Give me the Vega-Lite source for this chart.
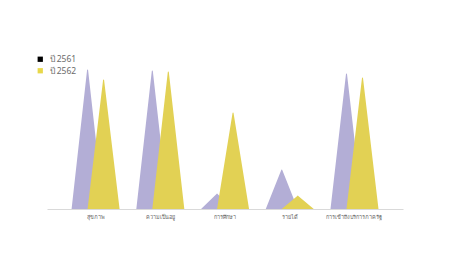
{
  "$schema": "https://vega.github.io/schema/vega-lite/v6.json",
  "width": 356,
  "height": 150,
  "autosize": {"type": "none"},
  "padding": {"left": 47, "top": 59, "right": 57, "bottom": 58},
  "background": "#ffffff",
  "config": {"view": {"stroke": null}, "font": "Noto Sans"},
  "data": {
    "values": [
      {"category": "สุขภาพ", "year": "ปี 2561", "value": 139},
      {"category": "สุขภาพ", "year": "ปี 2562", "value": 129},
      {"category": "ความเป็นอยู่", "year": "ปี 2561", "value": 138},
      {"category": "ความเป็นอยู่", "year": "ปี 2562", "value": 137},
      {"category": "การศึกษา", "year": "ปี 2561", "value": 15},
      {"category": "การศึกษา", "year": "ปี 2562", "value": 96},
      {"category": "รายได้", "year": "ปี 2561", "value": 39},
      {"category": "รายได้", "year": "ปี 2562", "value": 13},
      {"category": "การเข้าถึงบริการภาครัฐ", "year": "ปี 2561", "value": 135},
      {"category": "การเข้าถึงบริการภาครัฐ", "year": "ปี 2562", "value": 131}
    ]
  },
  "transform": [
    {"fold": ["value"], "as": ["part", "h"]},
    {"impute": "h", "key": "part", "keyvals": ["base", "value"], "groupby": ["category", "year"], "method": "value", "value": 0}
  ],
  "encoding": {
    "x": {
      "field": "category", "type": "nominal", "sort": null,
      "scale": {"paddingInner": 0, "paddingOuter": 0.25},
      "axis": {"title": null, "labelAngle": 0, "domainColor": "#d9d9d9", "ticks": false, "labelFontSize": 5.5, "labelColor": "#666666", "labelPadding": 5}
    },
    "xOffset": {"field": "year", "type": "nominal", "scale": {"range": [24.4, 40.4], "padding": 0}},
    "y": {"field": "h", "type": "quantitative", "scale": {"domain": [0, 150]}, "axis": null}
  },
  "layer": [
    {
      "mark": {"type": "trail", "clip": true},
      "encoding": {
        "fill": {"field": "year", "type": "nominal", "scale": {"range": ["#b3aed6", "#e2d154"]}, "legend": null},
        "detail": [{"field": "category"}, {"field": "year"}],
        "size": {"field": "part", "type": "ordinal", "scale": {"domain": ["base", "value"], "range": [32, 0]}, "legend": null}
      }
    },
    {
      "mark": {"type": "point", "shape": "square", "filled": true, "opacity": 0},
      "encoding": {
        "color": {
          "field": "year", "type": "nominal",
          "scale": {"range": ["#000000", "#e8d84a"]},
          "legend": {"title": null, "orient": "none", "legendX": -11, "legendY": -4, "symbolType": "square", "symbolSize": 28, "symbolOpacity": 1, "labelFontSize": 8.5, "labelColor": "#6b6b6b", "rowPadding": 2.5, "labelOffset": 5}
        }
      }
    }
  ]
}
